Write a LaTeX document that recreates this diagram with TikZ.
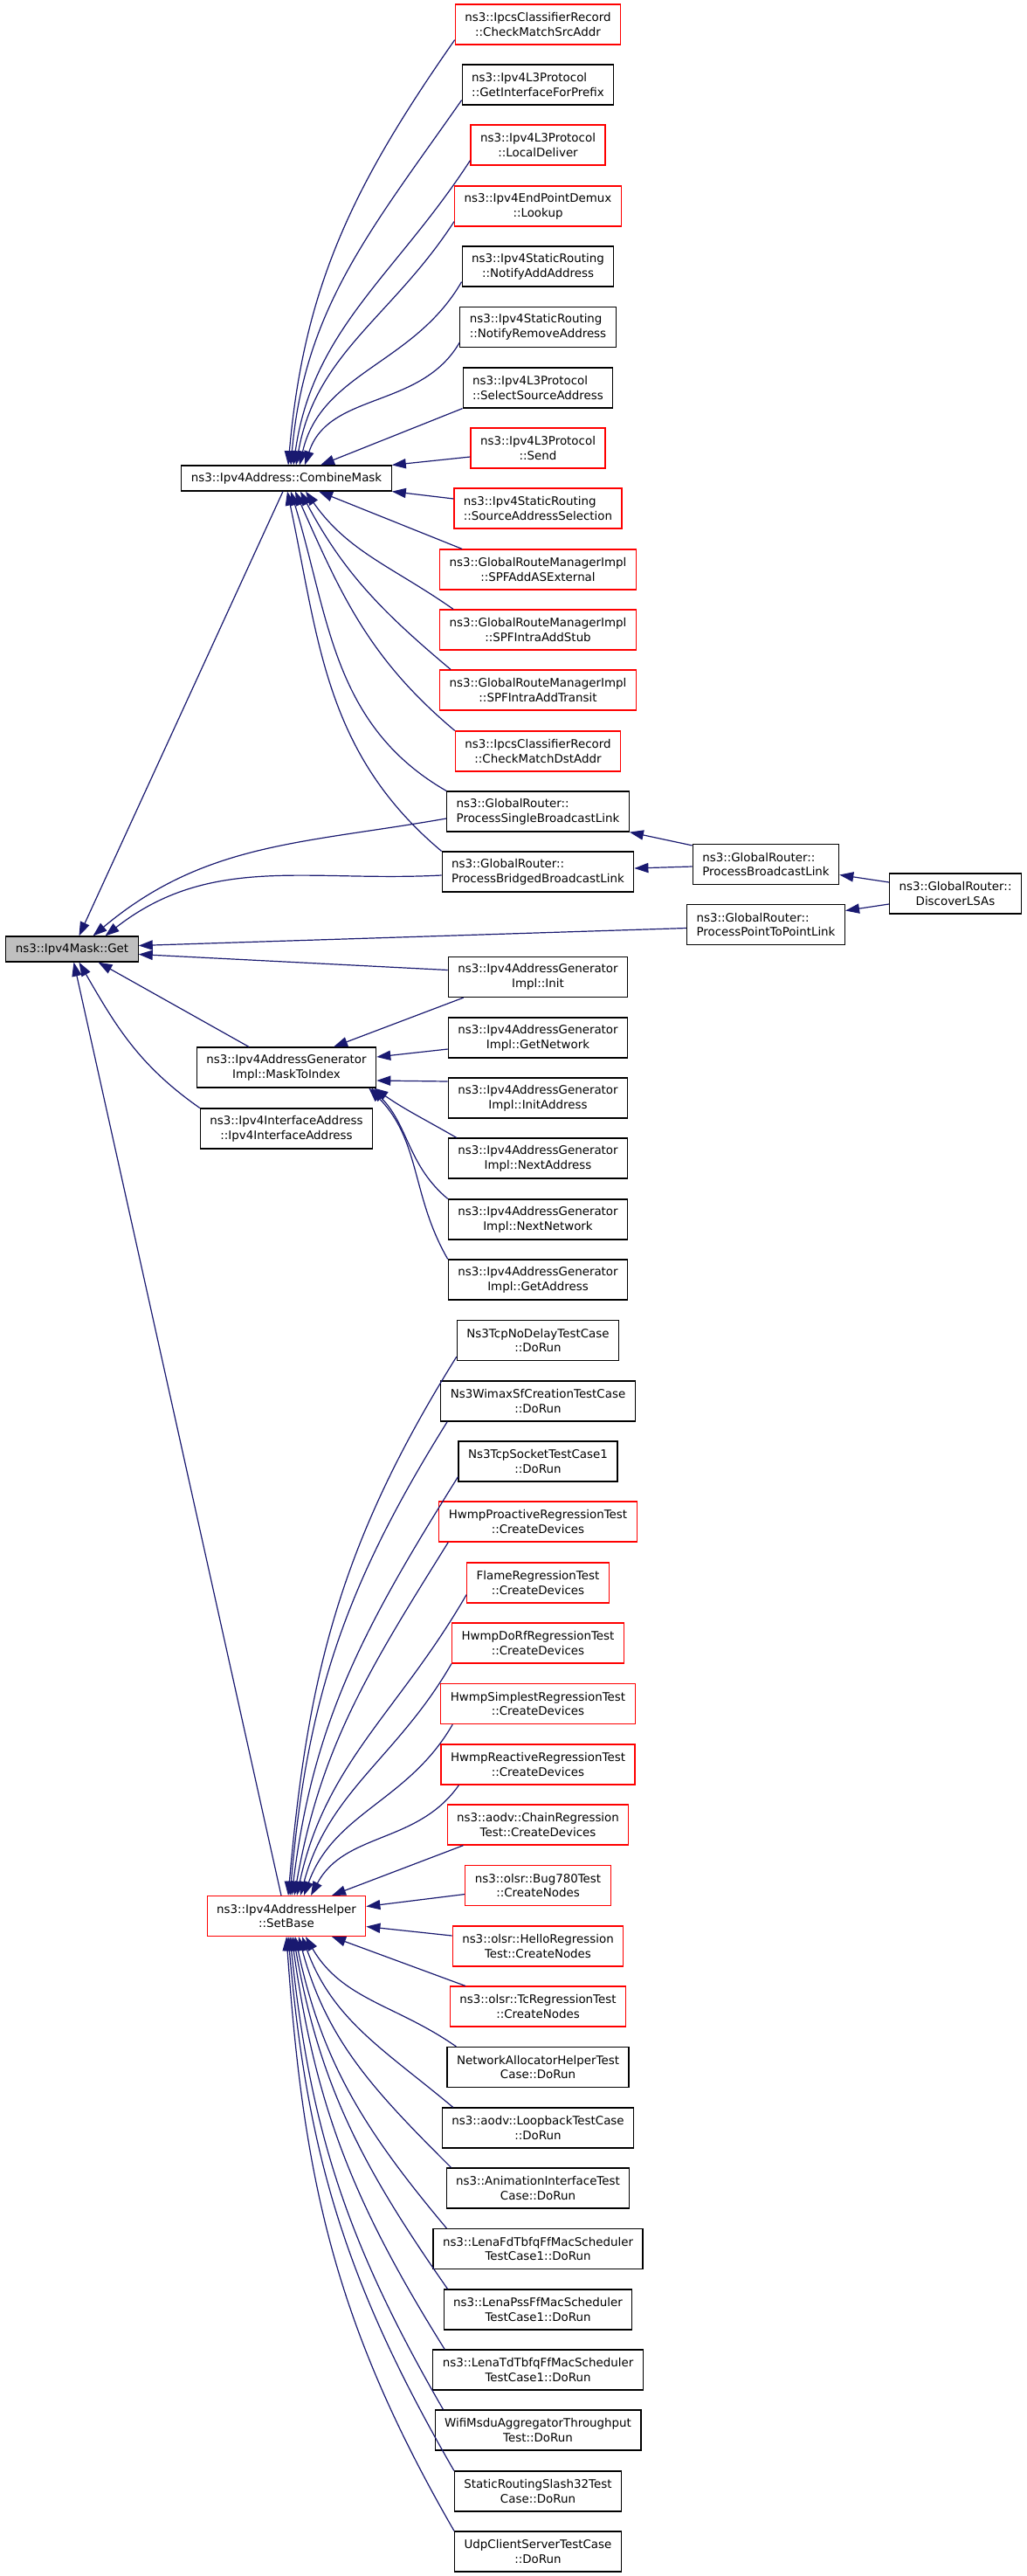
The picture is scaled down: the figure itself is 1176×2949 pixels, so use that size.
\documentclass[tikz,border=0pt]{standalone}
\usepackage{fontspec}
\setmainfont{DejaVu Sans}
\usetikzlibrary{arrows.meta}
\definecolor{edgeblue}{HTML}{191970}
% first line flush left, second line centred
\newcommand{\lbl}[2]{%
  \setbox0=\hbox{#1}\setbox2=\hbox{#2}%
  \ifdim\wd0<\wd2 \setbox0=\hbox to\wd2{\unhbox0\hfil}%
  \else \setbox2=\hbox to\wd0{\hfil\unhbox2\hfil}\fi
  \vbox{\box0\box2}}
\begin{document}
\begin{tikzpicture}[x=0.5pt, y=0.5pt, >={Triangle[length=8pt,width=5.6pt]},
  fn/.style={draw, line width=0.6pt, fill=white, inner xsep=5.5pt, inner ysep=0pt,
    minimum height=23pt, font=\fontsize{6.7}{8.35}\selectfont},
  calls/.style={->, draw=edgeblue, line width=0.6pt}]
\fill[white] (0,0) rectangle (1176,-2949);
\foreach \nm/\col/\y/\la/\lb in {
csa/red/28/ns3::IpcsClassifierRecord/::CheckMatchSrcAddr,
gifp/black/97/ns3::Ipv4L3Protocol/::GetInterfaceForPrefix,
ldel/red/166/ns3::Ipv4L3Protocol/::LocalDeliver,
lkup/red/236/ns3::Ipv4EndPointDemux/::Lookup,
naa/black/305/ns3::Ipv4StaticRouting/::NotifyAddAddress,
nra/black/374.5/ns3::Ipv4StaticRouting/::NotifyRemoveAddress,
ssa/black/444/ns3::Ipv4L3Protocol/::SelectSourceAddress,
send/red/513/ns3::Ipv4L3Protocol/::Send,
sas/red/582/ns3::Ipv4StaticRouting/::SourceAddressSelection,
spfase/red/652/ns3::GlobalRouteManagerImpl/::SPFAddASExternal,
spfstub/red/721/ns3::GlobalRouteManagerImpl/::SPFIntraAddStub,
spftrans/red/790/ns3::GlobalRouteManagerImpl/::SPFIntraAddTransit,
cda/red/860/ns3::IpcsClassifierRecord/::CheckMatchDstAddr,
psbl/black/929/ns3::GlobalRouter::/ProcessSingleBroadcastLink,
pbbl/black/998/ns3::GlobalRouter::/ProcessBridgedBroadcastLink,
init/black/1118.5/ns3::Ipv4AddressGenerator/Impl::Init,
gnet/black/1188/ns3::Ipv4AddressGenerator/Impl::GetNetwork,
iaddr/black/1257/ns3::Ipv4AddressGenerator/Impl::InitAddress,
naddr/black/1326/ns3::Ipv4AddressGenerator/Impl::NextAddress,
nnet/black/1396/ns3::Ipv4AddressGenerator/Impl::NextNetwork,
gaddr/black/1465/ns3::Ipv4AddressGenerator/Impl::GetAddress,
nodelay/black/1534.5/Ns3TcpNoDelayTestCase/::DoRun,
wimax/black/1604/Ns3WimaxSfCreationTestCase/::DoRun,
tcpsock/black/1673/Ns3TcpSocketTestCase1/::DoRun,
hproact/red/1742/HwmpProactiveRegressionTest/::CreateDevices,
flame/red/1812/FlameRegressionTest/::CreateDevices,
hdorf/red/1881/HwmpDoRfRegressionTest/::CreateDevices,
hsimp/red/1950.5/HwmpSimplestRegressionTest/::CreateDevices,
hreact/red/2020/HwmpReactiveRegressionTest/::CreateDevices,
chain/red/2089/ns3::aodv::ChainRegression/Test::CreateDevices,
bug/red/2158.5/ns3::olsr::Bug780Test/::CreateNodes,
hello/red/2228/ns3::olsr::HelloRegression/Test::CreateNodes,
tcreg/red/2297/ns3::olsr::TcRegressionTest/::CreateNodes,
netalloc/black/2366.5/NetworkAllocatorHelperTest/Case::DoRun,
loopback/black/2436/ns3::aodv::LoopbackTestCase/::DoRun,
anim/black/2505/ns3::AnimationInterfaceTest/Case::DoRun,
lenafd/black/2574.5/ns3::LenaFdTbfqFfMacScheduler/TestCase1::DoRun,
lenapss/black/2644/ns3::LenaPssFfMacScheduler/TestCase1::DoRun,
lenatd/black/2713/ns3::LenaTdTbfqFfMacScheduler/TestCase1::DoRun,
wifimsdu/black/2782/WifiMsduAggregatorThroughput/Test::DoRun,
slash32/black/2852/StaticRoutingSlash32Test/Case::DoRun,
udpcs/black/2921/UdpClientServerTestCase/::DoRun}
  \node[fn, draw=\col] (\nm) at (616,-\y) {\lbl{\la}{\lb}};
\node[fn, minimum height=14.5pt] (cmask) at (328,-547.5) {ns3::Ipv4Address::CombineMask};
\node[fn, minimum height=14.5pt, fill=black!25] (get) at (82.5,-1086.5) {ns3::Ipv4Mask::Get};
\node[fn] (pbl) at (877,-989.5) {\lbl{ns3::GlobalRouter::}{ProcessBroadcastLink}};
\node[fn] (dlsa) at (1094,-1023) {\lbl{ns3::GlobalRouter::}{DiscoverLSAs}};
\node[fn] (pptp) at (877,-1058.5) {\lbl{ns3::GlobalRouter::}{ProcessPointToPointLink}};
\node[fn] (mti) at (328,-1222) {\lbl{ns3::Ipv4AddressGenerator}{Impl::MaskToIndex}};
\node[fn] (v4ia) at (328,-1292) {\lbl{ns3::Ipv4InterfaceAddress}{::Ipv4InterfaceAddress}};
\node[fn, draw=red] (setbase) at (328,-2193.5) {\lbl{ns3::Ipv4AddressHelper}{::SetBase}};

\foreach \s/\o/\i/\d in {csa/235/85/1,gifp/235/85/2.5,ldel/237/82/4,lkup/237/80/5.5,naa/240/77/7.5,nra/240/72/10.5}
  \draw[calls] ([yshift=3pt]\s.south west) to[out=\o,in=\i] ([xshift=\d pt]cmask.north);
\draw[calls] (ssa.south west) -- ([xshift=19.5pt]cmask.north);
\draw[calls] ([yshift=-5pt]send.west) -- (cmask.north east);
\draw[calls] ([yshift=5.5pt]sas.west) -- (cmask.south east);
\draw[calls] ([xshift=13pt]spfase.north west) -- ([xshift=18.5pt]cmask.south);
\foreach \s/\sx/\o/\i/\d in {spfstub/8/145/-55/11,spftrans/6.5/140/-62/8,cda/0/140/-66/5,psbl/0/150/-73/2.5,pbbl/0/140/-78/0.5}
  \draw[calls] ([xshift=\sx pt]\s.north west) to[out=\o,in=\i] ([xshift=\d pt]cmask.south);

\draw[calls] ([xshift=-2pt]cmask.south) -- ([xshift=4pt]get.north);
\draw[calls] ([yshift=-4pt]psbl.west) to[out=190,in=40] ([xshift=12pt]get.north);
\draw[calls] ([yshift=-2pt]pbbl.west) to[out=183,in=38] ([xshift=19pt]get.north);
\draw[calls] ([yshift=-2pt]pptp.west) -- ([yshift=2pt]get.east);
\draw[calls] ([yshift=4pt]init.west) -- ([yshift=-3pt]get.east);
\draw[calls] ([xshift=-21.5pt]mti.north) -- ([xshift=15pt]get.south);
\draw[calls] (v4ia.north west) to[out=145,in=-60] ([xshift=4pt]get.south);
\draw[calls] ([xshift=-3pt]setbase.north) -- ([xshift=1pt]get.south);

\draw[calls] ([yshift=-1pt]pbl.north west) -- (psbl.south east);
\draw[calls] ([yshift=-1.25pt]pbl.west) -- ([yshift=2pt]pbbl.east);
\draw[calls] ([yshift=6.5pt]dlsa.west) -- ([yshift=-6pt]pbl.east);
\draw[calls] ([yshift=-6pt]dlsa.west) -- ([yshift=8pt]pptp.east);

\draw[calls] ([xshift=9pt]init.south west) -- ([xshift=27pt]mti.north);
\draw[calls] ([yshift=-6.5pt]gnet.west) -- ([yshift=6pt]mti.east);
\draw[calls] ([yshift=9.5pt]iaddr.west) -- ([yshift=-7.5pt]mti.east);
\draw[calls] ([xshift=5pt]naddr.north west) to[out=150,in=-35] ([xshift=-1.5pt]mti.south east);
\draw[calls] (nnet.north west) to[out=140,in=-45] ([xshift=-3pt]mti.south east);
\draw[calls] (gaddr.north west) to[out=120,in=-45] ([xshift=-4.5pt]mti.south east);

\foreach \s/\sx/\sy/\o/\i/\d in {nodelay/0/2.5/238/85/1,wimax/4/0/238/85/2,tcpsock/0/3/238/83/3,hproact/5.5/0/238/80/4.5,flame/0/5/240/78/6,hdorf/0/0/240/75/8,hsimp/7/0/240/70/10,hreact/10.5/0/235/62/14}
  \draw[calls] ([xshift=\sx pt,yshift=\sy pt]\s.south west) to[out=\o,in=\i] ([xshift=\d pt]setbase.north);
\draw[calls] ([xshift=9.5pt]chain.south west) -- ([xshift=26pt]setbase.north);
\draw[calls] ([yshift=-5pt]bug.west) -- ([yshift=5.5pt]setbase.east);
\draw[calls] ([yshift=6pt]hello.west) -- ([yshift=-6pt]setbase.east);
\draw[calls] ([xshift=9pt]tcreg.north west) -- ([xshift=26pt]setbase.south);
\foreach \s/\sx/\o/\i/\d in {netalloc/5.5/145/-60/11,loopback/6.5/140/-70/9,anim/3/135/-75/7,lenafd/8/130/-78/5,lenapss/2.5/125/-80/4,lenatd/7/122/-82/3,wifimsdu/5/120/-84/2,slash32/0/120/-85/1,udpcs/0/120/-86/0}
  \draw[calls] ([xshift=\sx pt]\s.north west) to[out=\o,in=\i] ([xshift=\d pt]setbase.south);
\end{tikzpicture}
\end{document}
